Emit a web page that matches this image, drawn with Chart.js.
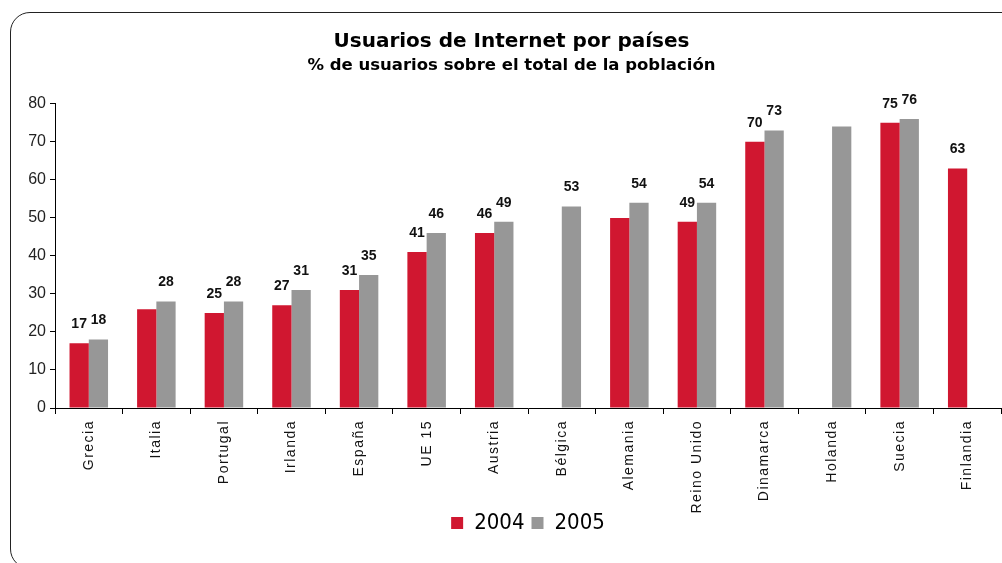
<!DOCTYPE html>
<html><head><meta charset="utf-8">
<script src="https://cdn.jsdelivr.net/npm/chart.js@4.4.0/dist/chart.umd.min.js"></script>
<style>
html,body{margin:0;padding:0;background:#fff;overflow:hidden}
#wrap{position:relative;width:1002px;height:563px;overflow:hidden}
#frame{position:absolute;left:10px;top:12px;width:1010px;height:555px;border:1px solid #222;border-radius:20px;pointer-events:none}
canvas{position:absolute;left:0;top:0}
</style></head><body>
<div id="wrap"><canvas id="c" width="1002" height="563"></canvas><div id="frame"></div></div>
<script>
const categories = ['Grecia','Italia','Portugal','Irlanda','España','UE 15','Austria','Bélgica','Alemania','Reino Unido','Dinamarca','Holanda','Suecia','Finlandia'];
const values2004 = [17,26,25,27,31,41,46,null,50,49,70,null,75,63];
const values2005 = [18,28,28,31,35,46,49,53,54,54,73,74,76,null];
const seriesNames = ['2004','2005'];
const unlabeled2004 = ['Italia','Alemania'];
const unlabeled2005 = ['Holanda'];
const yTickValues = [0,10,20,30,40,50,60,70,80];
const titleText = 'Usuarios de Internet por países';
const subtitleText = '% de usuarios sobre el total de la población';

const RED = '#D01730', GREY = '#979797';
const unlabeled = [unlabeled2004, unlabeled2005];

const labelPlugin = {
  id: 'vlabels',
  afterDatasetsDraw(chart) {
    const ctx = chart.ctx;
    ctx.save();
    ctx.font = 'bold 14px "Liberation Sans", Arial, sans-serif';
    ctx.fillStyle = '#111';
    ctx.textAlign = 'center';
    ctx.textBaseline = 'middle';
    chart.data.datasets.forEach((ds, di) => {
      const meta = chart.getDatasetMeta(di);
      meta.data.forEach((bar, i) => {
        const v = ds.data[i];
        if (v == null) return;
        if (unlabeled[di].includes(categories[i])) return;
        ctx.fillText(String(v), bar.x, bar.y - 19);
      });
    });
    ctx.restore();
  }
};

new Chart(document.getElementById('c'), {
  type: 'bar',
  data: {
    labels: categories,
    datasets: [
      {label: seriesNames[0], data: values2004, backgroundColor: RED, borderWidth: 0},
      {label: seriesNames[1], data: values2005, backgroundColor: GREY, borderWidth: 0}
    ]
  },
  options: {
    responsive: false,
    animation: false,
    events: [],
    layout: {padding: {left: 22, right: 1, top: 0, bottom: 19}},
    categoryPercentage: 0.57,
    barPercentage: 1.0,
    plugins: {
      title: {display: true, text: titleText, color: '#000',
        font: {family: '"DejaVu Sans", sans-serif', size: 20, weight: 'bold', lineHeight: 1.2},
        padding: {top: 30, bottom: 0}},
      subtitle: {display: true, text: subtitleText, color: '#000',
        font: {family: '"DejaVu Sans", sans-serif', size: 16.5, weight: 'bold', lineHeight: 1.2},
        padding: {top: 2, bottom: 28}},
      legend: {position: 'bottom', fullSize: false,
        labels: {boxWidth: 12, boxHeight: 12, padding: 7, color: '#000',
          font: {family: '"DejaVu Sans Condensed", "DejaVu Sans", sans-serif', size: 22}}},
      tooltip: {enabled: false}
    },
    scales: {
      x: {
        grid: {offset: true, drawOnChartArea: false, tickLength: 6, color: '#000'},
        border: {display: true, color: '#000', width: 1},
        ticks: {minRotation: 90, maxRotation: 90, padding: 6, color: '#111',
          font: {family: '"Liberation Sans", Arial, sans-serif', size: 14}},
        afterFit(scale) {
          scale.height = 97;
          if (!scale._lsPatched) {
            scale._computeLabelArea = function() { return undefined; };
            const orig = scale.drawLabels;
            scale.drawLabels = function(area) {
              const ctx = this.ctx; ctx.save();
              try { ctx.letterSpacing = '1.5px'; } catch(e) {}
              orig.call(this, area); ctx.restore();
            };
            scale._lsPatched = true;
          }
        }
      },
      y: {
        min: 0, max: 80,
        afterBuildTicks(scale) { scale.ticks = yTickValues.map(v => ({value: v})); },
        grid: {drawOnChartArea: false, tickLength: 5, color: '#000'},
        border: {display: true, color: '#000', width: 1},
        ticks: {padding: 4, color: '#222', font: {family: '"Liberation Sans", Arial, sans-serif', size: 16}},
        afterFit(scale) { scale.width = 33; }
      }
    }
  },
  plugins: [labelPlugin]
});
</script>
</body></html>
